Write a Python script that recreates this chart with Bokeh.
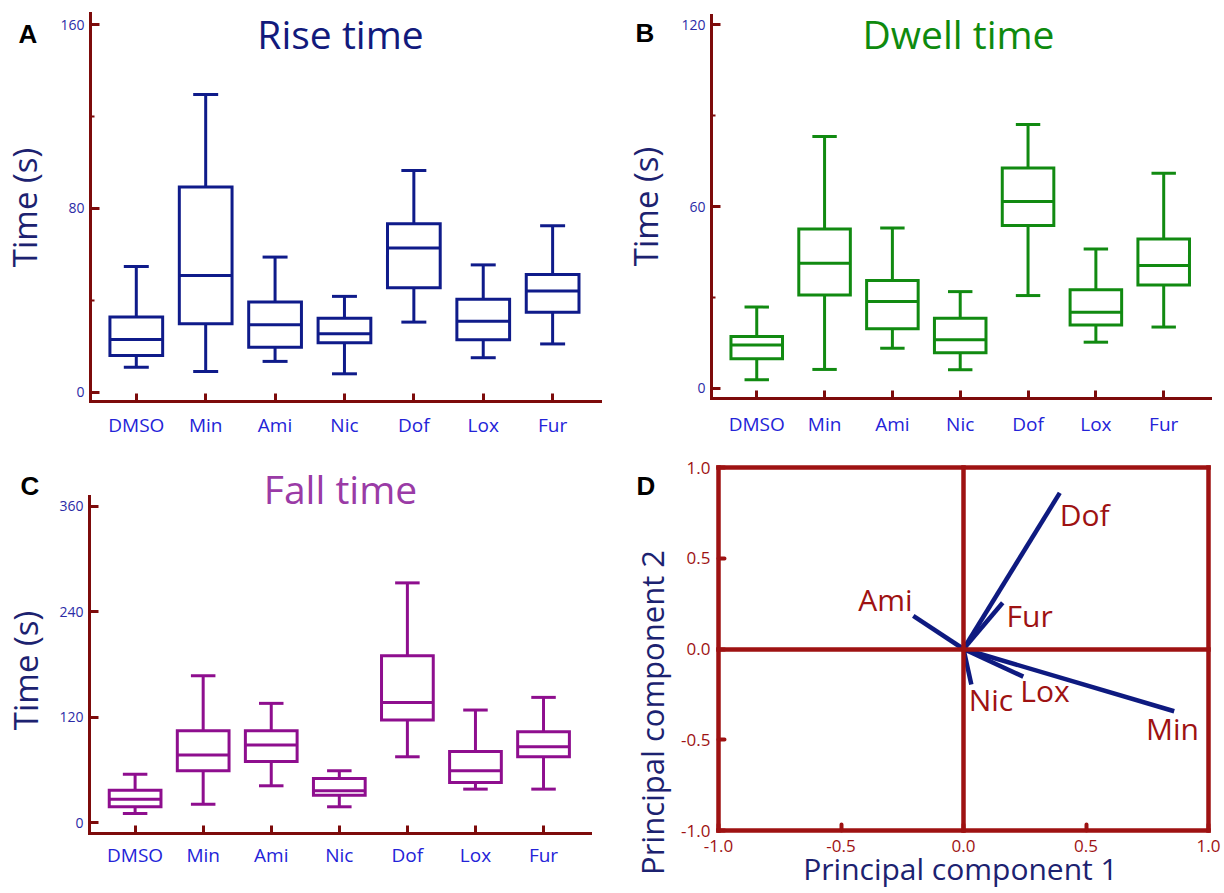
from bokeh.plotting import figure
from bokeh.models import Range1d, FixedTicker, Label, LinearAxis, ColumnDataSource
from bokeh.layouts import row, column
from bokeh.embed import file_html
from bokeh.resources import INLINE
from bokeh.core.properties import value

# ---------------- data ----------------
categories = ["DMSO", "Min", "Ami", "Nic", "Dof", "Lox", "Fur"]

rise_low = [10.9, 9.0, 13.4, 8.0, 30.5, 15.0, 21.0]
rise_q1 = [16.0, 29.8, 19.6, 21.5, 45.4, 22.8, 34.8]
rise_med = [22.9, 50.8, 29.3, 25.4, 62.8, 30.9, 44.0]
rise_q3 = [32.7, 89.3, 39.2, 32.2, 73.3, 40.5, 51.2]
rise_high = [54.7, 129.5, 58.8, 41.7, 96.5, 55.4, 72.4]

dwell_low = [2.8, 6.2, 13.2, 6.1, 30.6, 15.2, 20.2]
dwell_q1 = [9.7, 30.8, 19.6, 11.7, 53.7, 20.9, 34.1]
dwell_med = [14.3, 41.3, 28.6, 16.0, 61.7, 25.1, 40.5]
dwell_q3 = [17.1, 52.6, 35.6, 23.1, 72.7, 32.5, 49.3]
dwell_high = [26.8, 83.1, 52.9, 31.9, 87.1, 46.0, 71.0]

fall_low = [10.3, 20.9, 41.8, 17.9, 74.8, 38.0, 38.0]
fall_q1 = [17.9, 58.9, 69.5, 31.1, 116.6, 45.6, 74.8]
fall_med = [26.6, 76.7, 88.1, 36.1, 136.7, 58.9, 86.2]
fall_q3 = [36.8, 104.4, 104.4, 50.1, 189.9, 80.9, 103.3]
fall_high = [55.0, 167.0, 135.6, 58.9, 272.7, 128.0, 142.4]

rise_ticks = [0, 80, 160]
rise_minor = [40, 120]
dwell_ticks = [0, 60, 120]
dwell_minor = [30, 90]
fall_ticks = [0, 120, 240, 360]

pca_names = ["Dof", "Fur", "Ami", "Nic", "Lox", "Min"]
pc1 = [0.393, 0.160, -0.205, 0.032, 0.244, 0.860]
pc2 = [0.860, 0.255, 0.182, -0.196, -0.152, -0.343]
pca_ticks = [-1.0, -0.5, 0.0, 0.5, 1.0]

# ---------------- style ----------------
FONT = "Open Sans"
AXIS_RED = "#7d0b0b"
D_RED = "#9e1212"
YTICK_BLUE = "#2b2ba6"
CAT_BLUE = "#2323d8"
NAVY_LABEL = "#1c2270"
BOX_HALF = 0.38
CAP_HALF = 0.18

# label offsets (data units) relative to vector tips: (dx, dy, align)
pca_label_offsets = {
    "Dof": (0.0, -0.117, "left"),
    "Fur": (0.016, -0.068, "left"),
    "Ami": (-0.003, 0.093, "right"),
    "Nic": (-0.011, -0.083, "left"),
    "Lox": (-0.012, -0.075, "left"),
    "Min": (-0.115, -0.097, "left"),
}


def make_panel(origin, size, axis_px, axis_data):
    """Figure whose frame fills the whole canvas; the axes sit at axis_px (page pixels),
    which correspond to the data values in axis_data."""
    ox, oy = origin
    w, h = size
    l, t, r, b = axis_px
    x0, x1, y0, y1 = axis_data
    sx = (x1 - x0) / (r - l)
    sy = (y1 - y0) / (b - t)
    xr = (x0 - (l - ox) * sx, x1 + (ox + w - r) * sx)
    yr = (y0 - (oy + h - b) * sy, y1 + (t - oy) * sy)
    p = figure(width=w, height=h, x_range=Range1d(*xr), y_range=Range1d(*yr),
               x_axis_type=None, y_axis_type=None, min_border=0,
               output_backend="svg", toolbar_location=None)
    p.title.visible = False
    p.outline_line_color = None
    p.background_fill_color = "white"
    p.border_fill_color = "white"

    def conv(px, py):
        return x0 + (px - l) * sx, y0 + (b - py) * sy
    return p, conv


def box_panel(origin, size, axis_px, axis_data, ticks, minor, low, q1, med, q3, high,
              color, title, title_color, title_pos, letter, letter_pos, ylab_pos, xstand):
    p, conv = make_panel(origin, size, axis_px, axis_data)
    x0, x1, y0, y1 = axis_data
    xs = list(range(len(categories)))
    src = ColumnDataSource(dict(
        x=xs, left=[x - BOX_HALF for x in xs], right=[x + BOX_HALF for x in xs],
        cl=[x - CAP_HALF for x in xs], cr=[x + CAP_HALF for x in xs],
        low=low, q1=q1, med=med, q3=q3, high=high))
    p.segment(x0="x", y0="q3", x1="x", y1="high", source=src, line_color=color, line_width=3)
    p.segment(x0="x", y0="low", x1="x", y1="q1", source=src, line_color=color, line_width=3)
    p.segment(x0="cl", y0="high", x1="cr", y1="high", source=src, line_color=color, line_width=3)
    p.segment(x0="cl", y0="low", x1="cr", y1="low", source=src, line_color=color, line_width=3)
    p.quad(left="left", right="right", bottom="q1", top="q3", source=src,
           fill_color=None, line_color=color, line_width=3, line_join="miter")
    p.segment(x0="left", y0="med", x1="right", y1="med", source=src, line_color=color, line_width=3)

    xax = LinearAxis(fixed_location=y0, bounds=(x0, x1),
                     ticker=FixedTicker(ticks=xs, minor_ticks=[]),
                     major_label_overrides={i: c for i, c in enumerate(categories)})
    yax = LinearAxis(fixed_location=x0, bounds=(y0, y1),
                     ticker=FixedTicker(ticks=ticks, minor_ticks=minor))
    for ax in (xax, yax):
        ax.axis_line_color = AXIS_RED
        ax.axis_line_width = 3
        ax.axis_line_cap = "square"
        ax.major_tick_line_color = AXIS_RED
        ax.major_tick_line_width = 3
        ax.major_tick_out = 0
        ax.major_label_text_font = FONT
        ax.major_label_text_font_style = "normal"
    xax.major_tick_in = 8
    xax.minor_tick_line_color = None
    xax.major_label_text_font_size = "19px"
    xax.major_label_text_color = CAT_BLUE
    xax.major_label_standoff = xstand
    yax.major_tick_in = 9
    yax.minor_tick_in = 4
    yax.minor_tick_out = 0
    yax.minor_tick_line_color = AXIS_RED
    yax.minor_tick_line_width = 2
    yax.major_label_text_font_size = "14px"
    yax.major_label_text_color = YTICK_BLUE
    yax.major_label_standoff = 6
    p.add_layout(xax, "below")
    p.add_layout(yax, "left")

    tx, ty = conv(*title_pos)
    p.add_layout(Label(x=tx, y=ty, text=title, text_font=FONT, text_font_size="39px",
                       text_color=title_color, text_align="center", text_baseline="middle"))
    lx, ly = conv(*letter_pos)
    p.add_layout(Label(x=lx, y=ly, text=letter, text_font="Liberation Sans", text_font_size="26px",
                       text_font_style="bold", text_color="black", text_align="left",
                       text_baseline="middle"))
    yx, yy = conv(*ylab_pos)
    p.add_layout(Label(x=yx, y=yy, text="Time (s)", text_font=FONT, text_font_size="33px",
                       text_color=NAVY_LABEL, text_align="center", text_baseline="middle",
                       angle=90, angle_units="deg"))
    return p


pA = box_panel((0, 0), (610, 440), (90, 13, 600, 401), (-0.66, 6.69, -4.05, 164.8),
               rise_ticks, rise_minor, rise_low, rise_q1, rise_med, rise_q3, rise_high,
               "#0f1b8a", "Rise time", "#121a7c", (340, 33), "A", (18, 33), (24, 207), 10)
pB = box_panel((610, 0), (612, 440), (711, 15, 1210, 398), (-0.667, 6.69, -3.4, 123.1),
               dwell_ticks, dwell_minor, dwell_low, dwell_q1, dwell_med, dwell_q3, dwell_high,
               "#118a11", "Dwell time", "#0e8a0e", (958, 33), "B", (635, 32), (645, 206), 12)
pC = box_panel((0, 440), (610, 451), (89, 496, 590, 833), (-0.67, 6.69, -12.5, 371.0),
               fall_ticks, [], fall_low, fall_q1, fall_med, fall_q3, fall_high,
               "#8e0e8e", "Fall time", "#9a3ba6", (340, 488), "C", (20, 485), (25, 670), 8)

# ---------------- panel D ----------------
pD, convD = make_panel((610, 440), (612, 451), (718, 467, 1208, 830), (-1.0, 1.0, -1.0, 1.0))


def d_axis(loc, bnds, labelled):
    ax = LinearAxis(fixed_location=loc, bounds=bnds,
                    ticker=FixedTicker(ticks=pca_ticks if labelled else [], minor_ticks=[]))
    ax.axis_line_color = D_RED
    ax.axis_line_width = 4.5
    ax.axis_line_cap = "square"
    ax.minor_tick_line_color = None
    if labelled:
        ax.major_label_overrides = {t: ("%.1f" % t) for t in pca_ticks}
        ax.major_tick_line_color = D_RED
        ax.major_tick_line_width = 4
        ax.major_tick_line_cap = "round"
        ax.major_tick_in = 6
        ax.major_tick_out = 0
        ax.major_label_text_font = FONT
        ax.major_label_text_font_size = "17px"
        ax.major_label_text_color = D_RED
    else:
        ax.major_tick_line_color = None
        ax.major_label_text_color = None
    return ax


dl = d_axis(-1.0, (-1.0, 1.0), True)
dl.major_label_standoff = 8
db = d_axis(-1.0, (-1.0, 1.0), True)
db.major_label_standoff = 9
pD.add_layout(dl, "left")
pD.add_layout(db, "below")
pD.add_layout(d_axis(1.0, (-1.0, 1.0), False), "right")
pD.add_layout(d_axis(1.0, (-1.0, 1.0), False), "above")
pD.add_layout(d_axis(0.0, (-1.0, 1.0), False), "left")
pD.add_layout(d_axis(0.0, (-1.0, 1.0), False), "below")

pD.segment(x0=[0.0] * len(pc1), y0=[0.0] * len(pc2), x1=pc1, y1=pc2,
           line_color="#0e1a80", line_width=4.5)

left_x, left_y, left_t, right_x, right_y, right_t = [], [], [], [], [], []
for n, a, b in zip(pca_names, pc1, pc2):
    dx, dy, al = pca_label_offsets[n]
    if al == "left":
        left_x.append(a + dx); left_y.append(b + dy); left_t.append(n)
    else:
        right_x.append(a + dx); right_y.append(b + dy); right_t.append(n)
pD.text(x=left_x, y=left_y, text=left_t, text_align="left", text_baseline="middle",
        text_font=value(FONT), text_font_size=value("30px"), text_color=D_RED)
pD.text(x=right_x, y=right_y, text=right_t, text_align="right", text_baseline="middle",
        text_font=value(FONT), text_font_size=value("30px"), text_color=D_RED)

lx, ly = convD(636, 485)
pD.add_layout(Label(x=lx, y=ly, text="D", text_font="Liberation Sans", text_font_size="26px",
                    text_font_style="bold", text_color="black", text_align="left",
                    text_baseline="middle"))
ax_x, ax_y = convD(960, 868)
pD.add_layout(Label(x=ax_x, y=ax_y, text="Principal component 1", text_font=FONT,
                    text_font_size="30px", text_color=NAVY_LABEL, text_align="center",
                    text_baseline="middle"))
ay_x, ay_y = convD(651, 712)
pD.add_layout(Label(x=ay_x, y=ay_y, text="Principal component 2", text_font=FONT,
                    text_font_size="31px", text_color=NAVY_LABEL, text_align="center",
                    text_baseline="middle", angle=90, angle_units="deg"))

layout = column(row(pA, pB), row(pC, pD))
open("out.html", "w").write(file_html(layout, INLINE))
